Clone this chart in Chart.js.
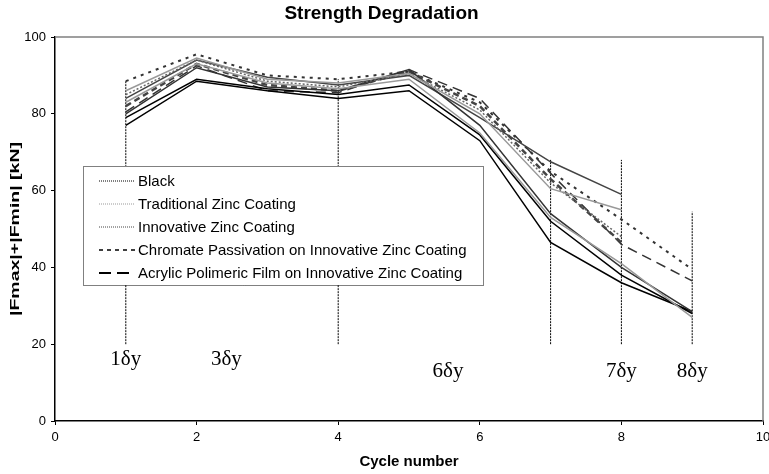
<!DOCTYPE html>
<html>
<head>
<meta charset="utf-8">
<script src="https://cdn.jsdelivr.net/npm/chart.js@4"></script>
<style>
  html, body { margin: 0; padding: 0; background: #fff; }
</style>
</head>
<body>
<canvas id="chart" width="769" height="474"></canvas>
<script>
// cycle numbers on the x axis
const cycles = [1, 2, 3, 4, 5, 6, 7, 8, 9];

// one array per specimen line (null = no point)
const black1 = [77, 88.5, 86, 84, 86, 73, 46.5, 36, 28.5];
const black2 = [79, 89, 86.5, 85, 87.5, 74.5, 52, 38, 28];
const dark1 = [80, 92, 87, 86, 91.5, 77, 54, 40, 28.5];
const gray1 = [83, 93, 88, 86.5, 89, 75, 53, 41, 27];
const dark2 = [84, 94, 89.5, 87.5, 90, 79, 67.5, 59, null];
const gray2 = [86, 94.5, 89, 88, 90.5, 80, 60.5, 55, null];
const chromate = [88.5, 95.5, 90, 89, 91, 83, 65, 52.5, 39.5];
const acrylic = [80.5, 92.5, 86, 85.5, 91.5, 84, 64.5, 46, 36.5];
const acrylic2 = [82, 93, 87.5, 86, 91, 82, 63, 46.5, null];
const innov2 = [85, 94, 88.5, 87, 90.5, 81, 62, 48, null];

// legend entries
const legendNames = ["Black", "Traditional Zinc Coating", "Innovative Zinc Coating",
  "Chromate Passivation on Innovative Zinc Coating", "Acrylic Polimeric Film on Innovative Zinc Coating"];

// vertical marker lines and their labels
const markX = [1, 4, 7, 8, 9];
const markTop = [88.5, 89, 68, 68, 54.5];
const markBottom = 20;
const deltaText = ["1δy", "3δy", "6δy", "7δy", "8δy"];
const deltaX = [1, 2.42, 5.55, 8, 9];
const deltaY = [16, 16, 13, 13, 13];

const yTitle = "|Fmax|+|Fmin| [kN]";

function pts(arr) {
  return cycles.map((c, i) => ({ x: c, y: arr[i] })).filter(p => p.y !== null);
}

function line(arr, color, dash, width) {
  return {
    data: pts(arr),
    borderColor: color,
    borderDash: dash || [],
    borderWidth: width || 1.5,
    pointRadius: 0,
    fill: false,
    tension: 0
  };
}

const datasets = [
  line(gray1, "#999999"),
  line(gray2, "#999999"),
  line(innov2, "#666666", [2, 2]),
  line(dark1, "#333333"),
  line(dark2, "#444444"),
  line(black2, "#000000"),
  line(black1, "#000000"),
  line(acrylic2, "#444444", [6, 4], 2.5),
  line(acrylic, "#333333", [10, 6], 1.5),
  line(chromate, "#333333", [3, 5], 2)
];

// marker lines: two points each, dotted black
markX.forEach((x, i) => {
  datasets.push({
    data: [{ x: x, y: markBottom }, { x: x, y: markTop[i] }],
    borderColor: "#000",
    borderWidth: 1,
    borderDash: [2, 1],
    pointRadius: 0
  });
});

// legend symbols: dash pattern / colour per entry
const legendDash = [[1, 1], [1, 1], [1, 1], [4, 4], [12, 6]];
const legendColor = ["#000", "#999", "#444", "#000", "#000"];
const legendWidth = [1, 1, 1, 1.5, 2];

const extras = {
  id: "extras",
  afterDraw(chart) {
    const { ctx, chartArea: a, scales } = chart;
    ctx.save();
    // gray frame on top and right
    ctx.strokeStyle = "#808080";
    ctx.lineWidth = 1.5;
    ctx.beginPath();
    ctx.moveTo(a.left, a.top);
    ctx.lineTo(a.right, a.top);
    ctx.lineTo(a.right, a.bottom);
    ctx.stroke();

    // y axis title, stretched along its length like the original
    ctx.save();
    ctx.translate(15, (a.top + a.bottom) / 2);
    ctx.rotate(-Math.PI / 2);
    ctx.scale(1.5, 1);
    ctx.fillStyle = "#000";
    ctx.font = "bold 13px 'Liberation Sans', Arial, sans-serif";
    ctx.textAlign = "center";
    ctx.textBaseline = "middle";
    ctx.fillText(yTitle, 0, 0);
    ctx.restore();

    // delta-y labels
    ctx.fillStyle = "#000";
    ctx.font = "21px 'Liberation Serif', 'Times New Roman', serif";
    ctx.textAlign = "center";
    ctx.textBaseline = "middle";
    deltaText.forEach((t, i) => {
      ctx.fillText(t, scales.x.getPixelForValue(deltaX[i]), scales.y.getPixelForValue(deltaY[i]));
    });

    // legend box
    const lx = a.left + 28, ly = 166, lw = 400, lh = 119;
    ctx.fillStyle = "#fff";
    ctx.fillRect(lx, ly, lw, lh);
    ctx.strokeStyle = "#000";
    ctx.lineWidth = 1;
    ctx.setLineDash([1, 1]);
    ctx.strokeRect(lx + 0.5, ly + 0.5, lw, lh);
    ctx.font = "15px 'Liberation Sans', Arial, sans-serif";
    ctx.textAlign = "left";
    legendNames.forEach((name, i) => {
      const y = ly + 15 + i * 23;
      ctx.setLineDash(legendDash[i]);
      ctx.strokeStyle = legendColor[i];
      ctx.lineWidth = legendWidth[i];
      ctx.beginPath();
      ctx.moveTo(lx + 16, y);
      ctx.lineTo(lx + 52, y);
      ctx.stroke();
      ctx.fillStyle = "#000";
      ctx.fillText(name, lx + 55, y + 1);
    });
    ctx.restore();
  }
};

new Chart(document.getElementById("chart"), {
  type: "line",
  data: { datasets },
  options: {
    responsive: false,
    animation: false,
    layout: { padding: { right: 6 } },
    plugins: {
      legend: { display: false },
      tooltip: { enabled: false },
      title: {
        display: true,
        text: "Strength Degradation",
        color: "#000",
        font: { family: "'Liberation Sans', Arial", size: 19, weight: "bold" },
        padding: { top: 2, bottom: 12.2 }
      }
    },
    scales: {
      x: {
        type: "linear",
        min: 0,
        max: 10,
        ticks: { stepSize: 2, padding: 5, color: "#000", font: { family: "'Liberation Sans', Arial", size: 13 } },
        grid: { drawOnChartArea: false, color: "#000", tickLength: 4 },
        border: { color: "#000", width: 1.5 },
        title: {
          display: true,
          text: "Cycle number",
          color: "#000",
          font: { family: "'Liberation Sans', Arial", size: 15, weight: "bold" },
          padding: { top: 2, bottom: 3 }
        },
        afterFit(s) {
          s.height = 53;
          // let the last tick label run past the edge, as in the original
          s.paddingRight = 0;
          s.paddingLeft = 0;
        }
      },
      y: {
        min: 0,
        max: 100,
        ticks: { stepSize: 20, padding: 5, color: "#000", font: { family: "'Liberation Sans', Arial", size: 13 } },
        grid: { drawOnChartArea: false, color: "#000", tickLength: 4 },
        border: { color: "#000", width: 1.5 },
        afterFit(s) { s.width = 55; }
      }
    }
  },
  plugins: [extras]
});
</script>
</body>
</html>
